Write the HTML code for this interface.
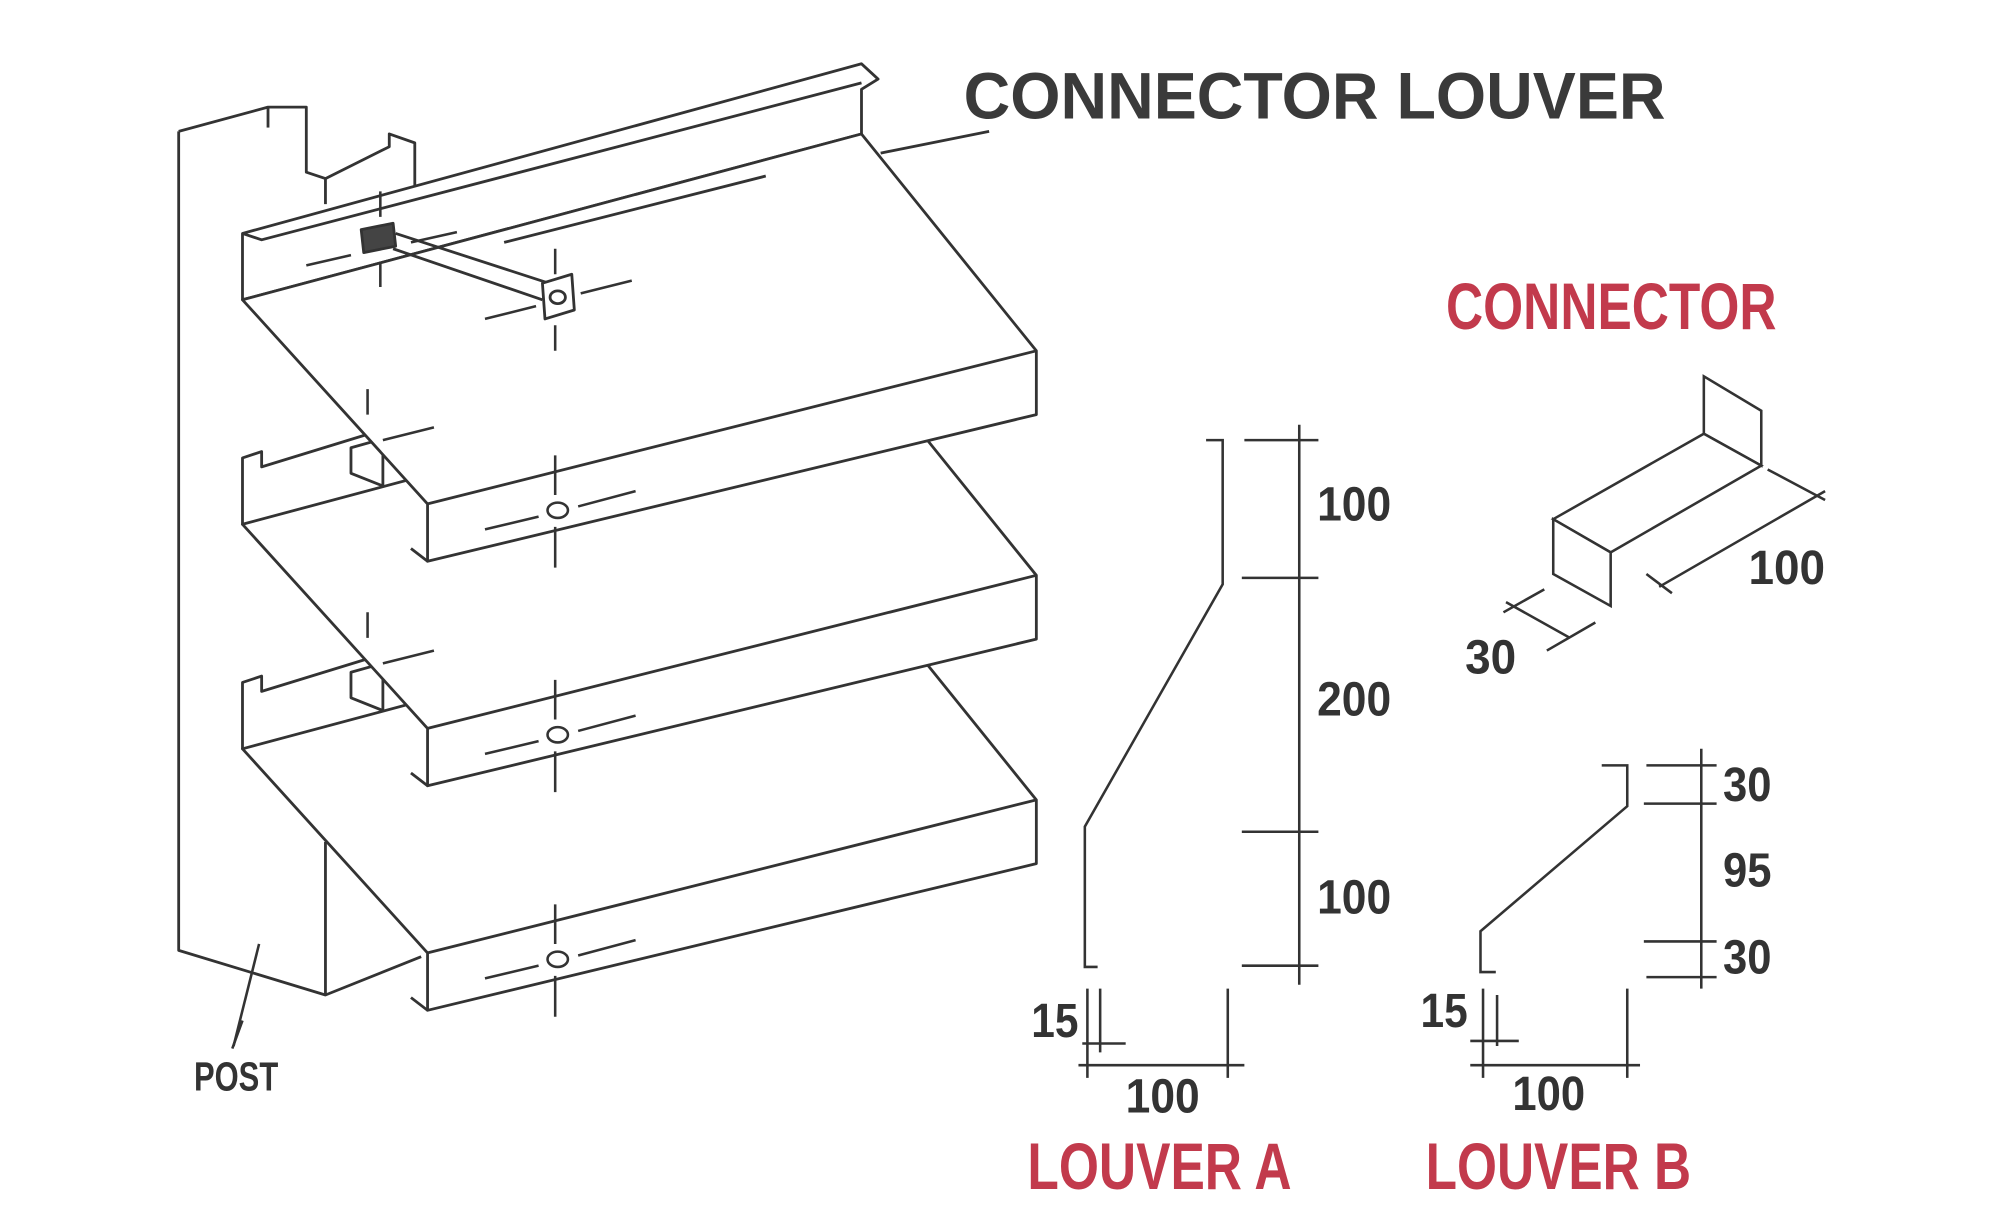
<!DOCTYPE html>
<html><head><meta charset="utf-8"><style>
html,body{margin:0;padding:0;background:#fff;}
svg{display:block;}
.t{font-family:"Liberation Sans Narrow","Liberation Sans",sans-serif;font-weight:bold;}
</style></head><body>
<svg width="1991" height="1231" viewBox="0 0 1560 965" preserveAspectRatio="none" xmlns="http://www.w3.org/2000/svg">
<rect width="1560" height="965" fill="#fff"/>
<g fill="none" stroke="#333" stroke-width="2.2" stroke-linejoin="round">
<!-- post -->
<path d="M140,103 L140,745 L255,780 L330,750"/>
<path d="M255,660 L255,780"/>
<path d="M140,103 L210,84 L240,84 L240,135 L255,140 L255,160"/>
<path d="M255,140 L305,115 L305,105 L325,112 L325,170"/>
<path d="M210,84 L210,100"/>
<!-- louver 3 -->
<g transform="translate(0,352)">
<path fill="#fff" d="M190,183 L205,178 L205,190 L335,150 L335,235 L190,235 Z"/>
<path fill="#fff" d="M275,175 L300,168 L300,205 L275,195 Z"/>
<path fill="#fff" d="M190,235 L675,105 L812,275 L812,325 L335,440 L335,395 Z"/>
<path d="M335,395 L812,275"/><path d="M335,440 L322,430"/>
</g>
<!-- louver 2 -->
<g transform="translate(0,176)">
<path fill="#fff" d="M190,183 L205,178 L205,190 L335,150 L335,235 L190,235 Z"/>
<path fill="#fff" d="M275,175 L300,168 L300,205 L275,195 Z"/>
<path fill="#fff" d="M190,235 L675,105 L812,275 L812,325 L335,440 L335,395 Z"/>
<path d="M335,395 L812,275"/><path d="M335,440 L322,430"/>
</g>
<!-- louver 1 -->
<path fill="#fff" d="M190,183 L675,50 L688,62 L675,70 L675,105 L190,235 Z"/>
<path d="M190,183 L205,188 L675,65"/>
<path fill="#fff" d="M190,235 L675,105 L812,275 L812,325 L335,440 L335,395 Z"/>
<path d="M335,395 L812,275"/><path d="M335,440 L322,430"/>
<!-- connector on louver1 -->
<path fill="#444" d="M283,180 L308,175 L310,193 L285,198 Z"/>
<path d="M310,183 L430,222 M308,195 L425,235"/>
<path fill="#fff" d="M425,222 L448,215 L450,243 L427,250 Z"/>
<ellipse cx="437" cy="233" rx="6" ry="5"/>
<path d="M775,103 L690,120 M395,190 L600,138"/>
</g>
<!-- centerlines -->
<g stroke="#333" stroke-width="2" fill="none">
<path d="M240,208 L275,200 M322,190 L358,182 M298,150 L298,170 M298,205 L298,225"/>
<path d="M380,250 L420,240 M455,230 L495,220 M435,195 L435,215 M435,255 L435,275"/>
<path d="M288,305 L288,325 M300,345 L340,335"/>
<path d="M288,480 L288,500 M300,520 L340,510"/>
<g id="cl"><path d="M380,415 L422,405 M453,397 L498,385 M435,357 L435,388 M435,413 L435,445"/><ellipse cx="437" cy="400" rx="8" ry="6"/></g>
<use href="#cl" transform="translate(0,176)"/>
<use href="#cl" transform="translate(0,352)"/>
<path d="M190,800 L182,822" />
<path d="M203,740 L183,820"/>
<!-- louver A -->
<path d="M945,345 L958,345 L958,458 L850,648 L850,758 L860,758"/>
<path d="M1018,333 L1018,772 M975,345 L1033,345 M973,453 L1033,453 M973,652 L1033,652 M973,757 L1033,757"/>
<path d="M852,775 L852,845 M862,775 L862,825 M962,775 L962,845 M845,835 L975,835 M848,818 L882,818"/>
<!-- louver B -->
<path d="M1255,600 L1275,600 L1275,632 L1160,730 L1160,762 L1172,762"/>
<path d="M1333,587 L1333,775 M1290,600 L1345,600 M1288,630 L1345,630 M1288,738 L1345,738 M1290,766 L1345,766"/>
<path d="M1162,775 L1162,845 M1173,780 L1173,820 M1275,775 L1275,845 M1152,835 L1285,835 M1152,816 L1190,816"/>
<!-- connector iso -->
<path fill="#fff" d="M1335,295 L1380,322 L1380,365 L1335,340 Z"/>
<path fill="#fff" d="M1217,407 L1335,340 L1380,365 L1262,433 Z"/>
<path fill="#fff" d="M1217,407 L1262,433 L1262,475 L1217,450 Z"/>
<path d="M1300,460 L1430,385 M1385,368 L1430,392 M1290,450 L1310,465 M1180,472 L1230,500 M1210,462 L1178,480 M1250,488 L1212,510"/>
</g>
<!-- text -->
<text class="t" x="755" y="93" font-size="52" fill="#3a3a3a" textLength="550" lengthAdjust="spacingAndGlyphs">CONNECTOR  LOUVER</text>
<text class="t" x="1133" y="258" font-size="52" fill="#c23a4c" textLength="259" lengthAdjust="spacingAndGlyphs">CONNECTOR</text>
<text class="t" x="805" y="932" font-size="52" fill="#c23a4c" textLength="207" lengthAdjust="spacingAndGlyphs">LOUVER A</text>
<text class="t" x="1117" y="932" font-size="52" fill="#c23a4c" textLength="208" lengthAdjust="spacingAndGlyphs">LOUVER B</text>
<g class="t" font-size="38" fill="#333">
<text x="1032" y="408" textLength="58" lengthAdjust="spacingAndGlyphs">100</text>
<text x="1032" y="561" textLength="58" lengthAdjust="spacingAndGlyphs">200</text>
<text x="1032" y="716" textLength="58" lengthAdjust="spacingAndGlyphs">100</text>
<text x="808" y="813" textLength="37" lengthAdjust="spacingAndGlyphs">15</text>
<text x="882" y="872" textLength="58" lengthAdjust="spacingAndGlyphs">100</text>
<text x="1350" y="628" textLength="38" lengthAdjust="spacingAndGlyphs">30</text>
<text x="1350" y="695" textLength="38" lengthAdjust="spacingAndGlyphs">95</text>
<text x="1350" y="763" textLength="38" lengthAdjust="spacingAndGlyphs">30</text>
<text x="1113" y="805" textLength="37" lengthAdjust="spacingAndGlyphs">15</text>
<text x="1185" y="870" textLength="57" lengthAdjust="spacingAndGlyphs">100</text>
<text x="1370" y="458" textLength="60" lengthAdjust="spacingAndGlyphs">100</text>
<text x="1148" y="528" textLength="40" lengthAdjust="spacingAndGlyphs">30</text>
<text x="152" y="855" font-size="32" textLength="66" lengthAdjust="spacingAndGlyphs">POST</text>
</g>
</svg>
</body></html>
